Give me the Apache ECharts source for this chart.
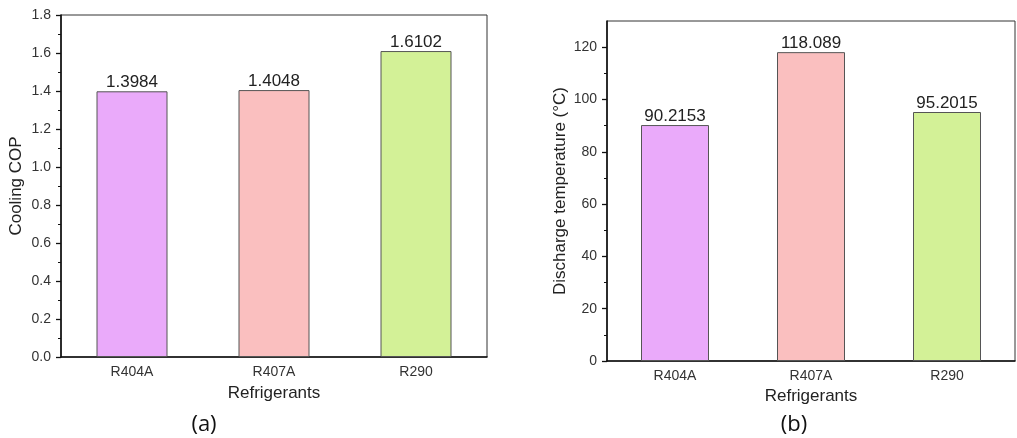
<!DOCTYPE html>
<html><head><meta charset="utf-8">
<script src="https://cdn.jsdelivr.net/npm/echarts@6/dist/echarts.min.js"></script>
<style>html,body{margin:0;padding:0;background:#fff}#c{width:1017px;height:438px}</style>
</head><body><div id="c"></div>
<script>
const categories = ['R404A', 'R407A', 'R290'];
const copValues = [1.3984, 1.4048, 1.6102];
const tempValues = [90.2153, 118.089, 95.2015];
const copTicks = [0, 0.2, 0.4, 0.6, 0.8, 1.0, 1.2, 1.4, 1.6, 1.8];
const tempTicks = [0, 20, 40, 60, 80, 100, 120];
const barColors = ['#EAAAFA', '#FABFBF', '#D3F197'];
const panelLabels = ['(a)', '(b)'];

const chart = echarts.init(document.getElementById('c'), null, {renderer: 'canvas'});
const font = 'Liberation Sans, Arial, sans-serif';
function xAx(gi, nameGap) {
  return {
    type: 'category', gridIndex: gi, data: categories,
    axisLine: {lineStyle: {color: '#111', width: 1.6}},
    axisTick: {show: false},
    axisLabel: {color: '#333', fontSize: 14, fontFamily: font, margin: 8},
    name: 'Refrigerants', nameLocation: 'middle', nameGap: nameGap,
    nameTextStyle: {color: '#222', fontSize: 17, fontFamily: font}
  };
}
function yAx(gi, max, interval, ticks, fmt, name, nameGap) {
  return {
    type: 'value', gridIndex: gi, min: 0, max: max, interval: interval,
    splitLine: {show: false},
    axisLine: {show: true, lineStyle: {color: '#111', width: 1.6}},
    axisTick: {show: true, length: 5, lineStyle: {color: '#111', width: 1.3}, customValues: ticks},
    minorTick: {show: true, splitNumber: 2, length: 3, lineStyle: {color: '#111', width: 1}},
    axisLabel: {color: '#333', fontSize: 14, fontFamily: font, margin: 10, customValues: ticks, formatter: fmt},
    name: name, nameLocation: 'middle', nameGap: nameGap, nameRotate: 90,
    nameTextStyle: {color: '#222', fontSize: 17, fontFamily: font}
  };
}
function series(gi, vals) {
  return {
    type: 'bar', xAxisIndex: gi, yAxisIndex: gi, barWidth: '50%',
    data: vals.map((v, i) => ({value: v, itemStyle: {color: barColors[i]}})),
    itemStyle: {borderColor: '#555', borderWidth: 1},
    label: {show: true, position: 'top', distance: 0, color: '#222', fontSize: 17, fontFamily: font}
  };
}
chart.setOption({
  animation: false,
  grid: [
    {left: 61, top: 15, width: 426, height: 342, show: true, borderColor: '#333', borderWidth: 1},
    {left: 607, top: 21, width: 408, height: 340, show: true, borderColor: '#333', borderWidth: 1}
  ],
  xAxis: [xAx(0, 28), xAx(1, 26)],
  yAxis: [
    yAx(0, 1.8, 0.2, copTicks, v => v.toFixed(1), 'Cooling COP', 36),
    yAx(1, 130, 20, tempTicks, v => String(v), 'Discharge temperature (°C)', 38)
  ],
  series: [series(0, copValues), series(1, tempValues)],
  graphic: [
    {type: 'text', x: 204, y: 414, style: {text: panelLabels[0], align: 'center', fontSize: 22, fontFamily: 'Open Sans, sans-serif', fill: '#111'}},
    {type: 'text', x: 794, y: 414, style: {text: panelLabels[1], align: 'center', fontSize: 22, fontFamily: 'Open Sans, sans-serif', fill: '#111'}}
  ]
});
</script></body></html>
